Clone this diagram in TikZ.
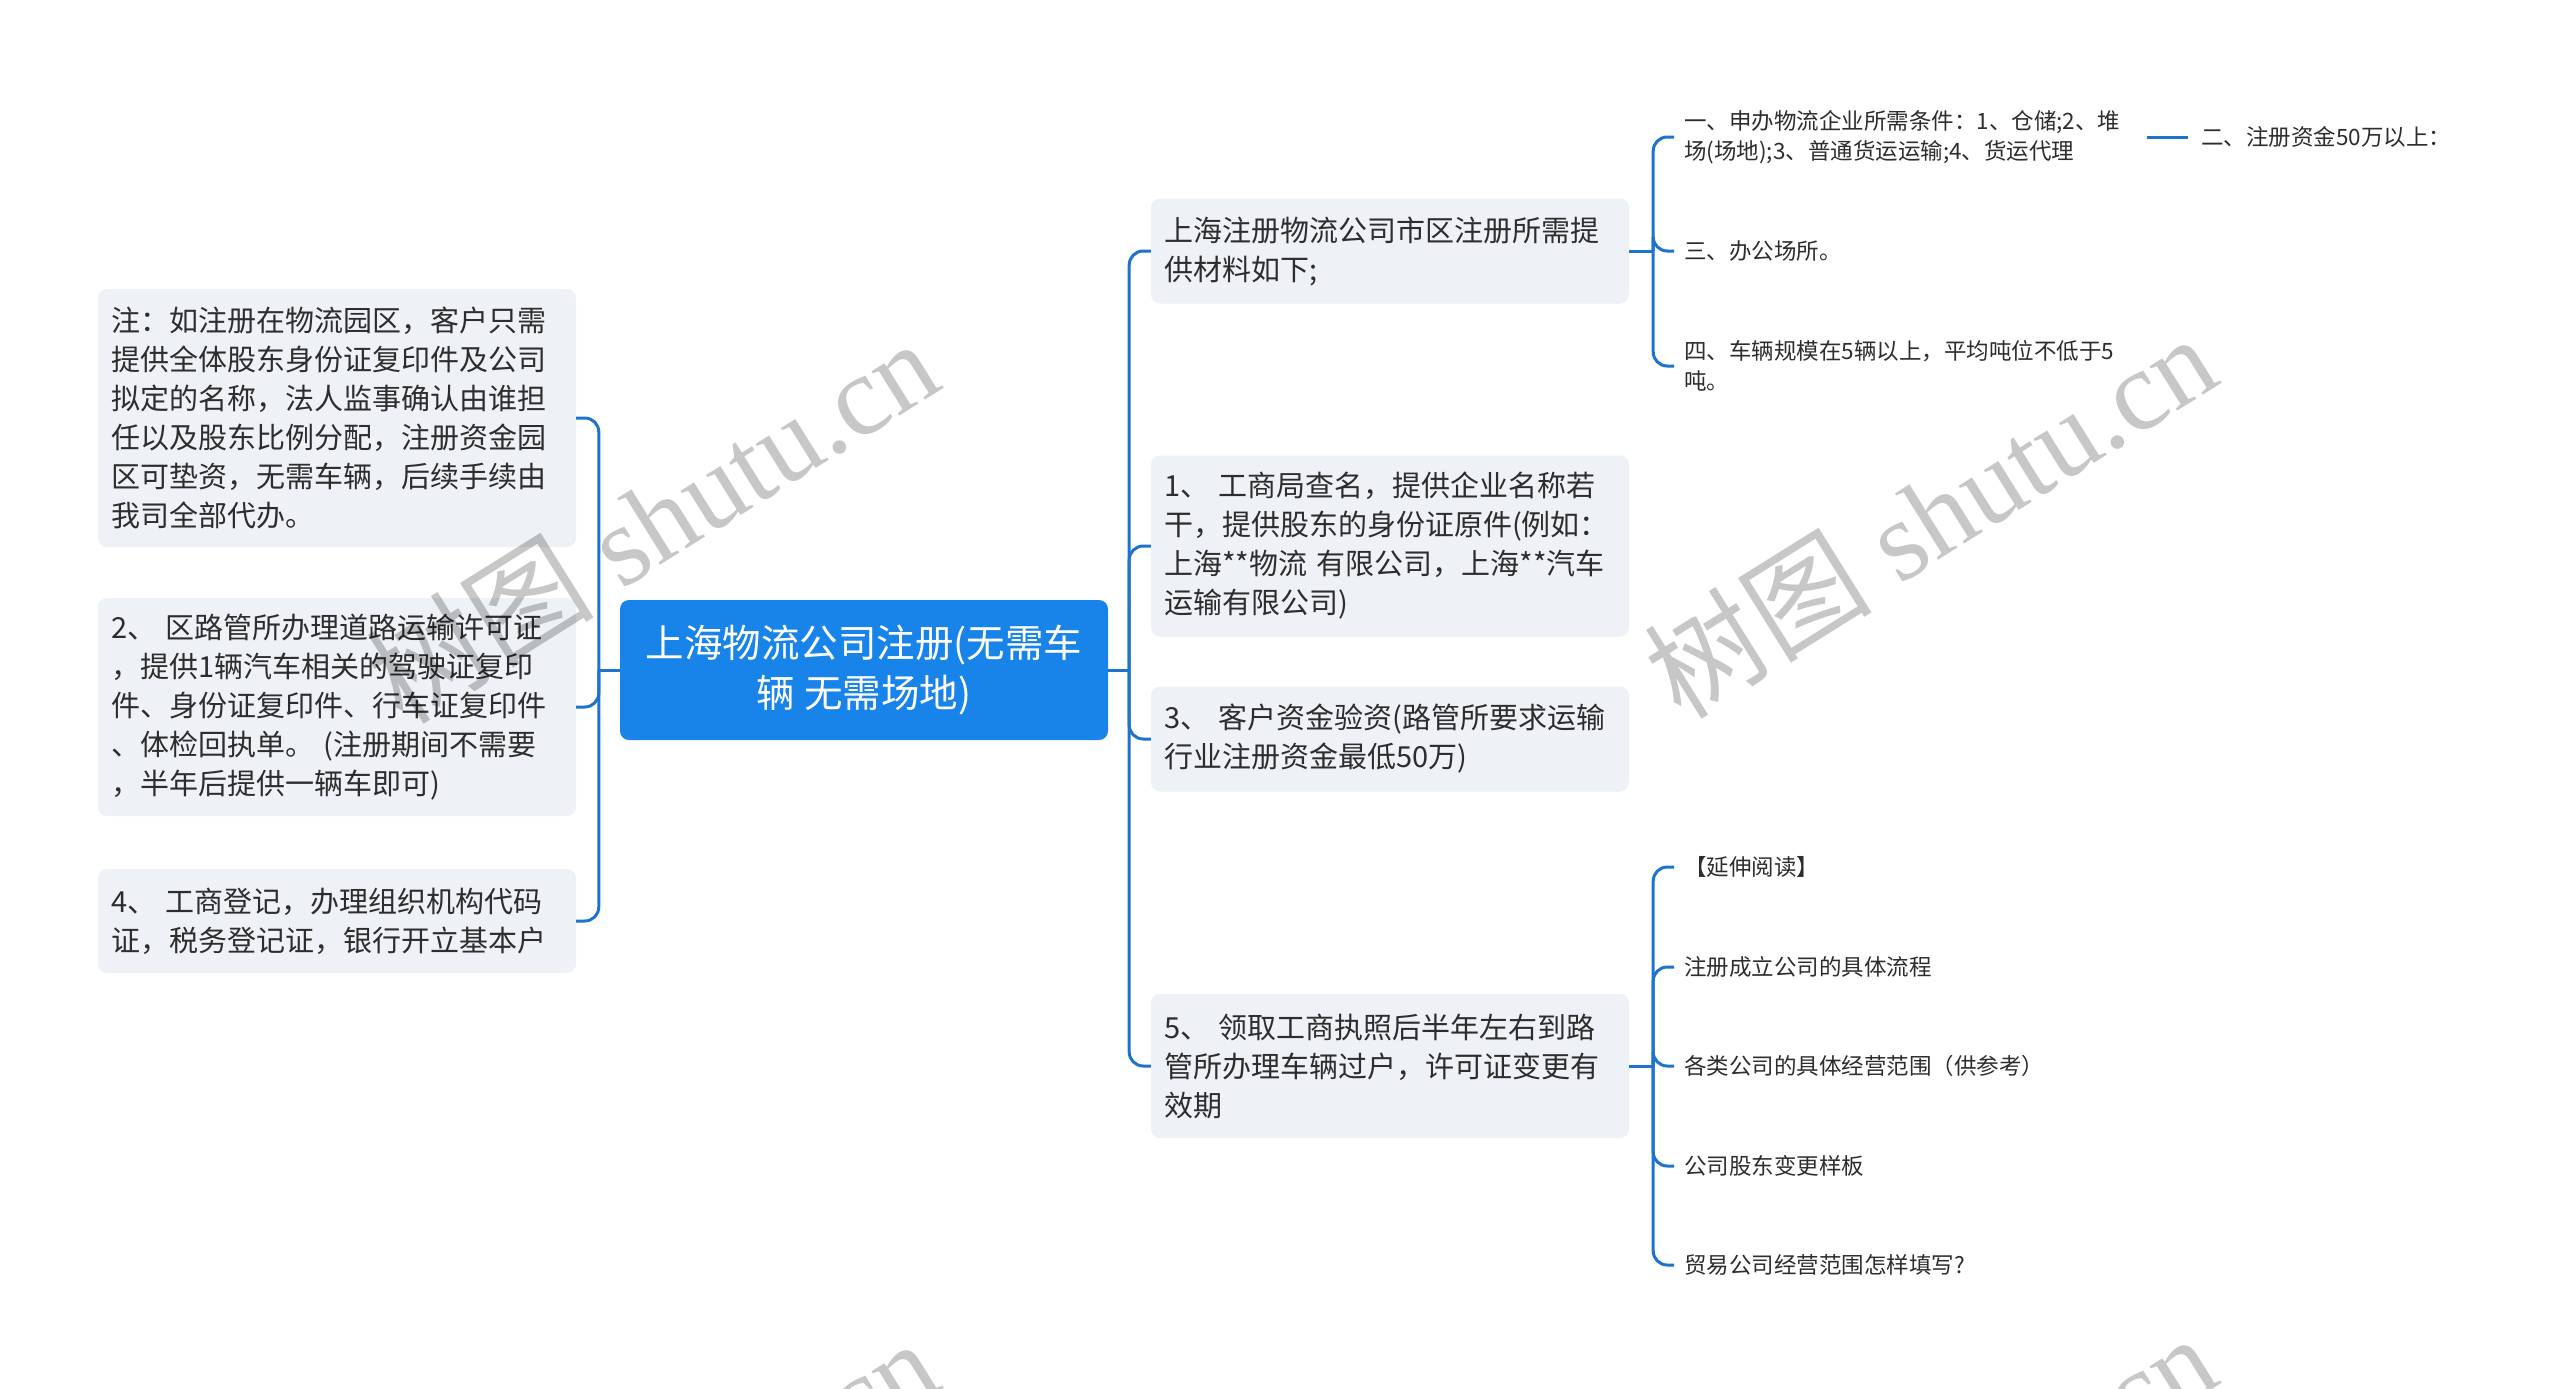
\documentclass[tikz,border=0pt]{standalone}
\usepackage{fontspec}
\setmainfont{Noto Sans CJK SC}
\newfontfamily\wmserif{Liberation Serif}
\newfontfamily\wmcjk{Noto Sans CJK SC}
\definecolor{mainblue}{RGB}{24,131,232}
\definecolor{linkblue}{RGB}{30,115,205}
\definecolor{boxgray}{RGB}{238,241,245}
\definecolor{txt}{RGB}{45,45,45}
\begin{document}
\begin{tikzpicture}[x=1pt,y=-1pt,
  mainnode/.style={fill=mainblue, rounded corners=9pt, minimum width=488pt, minimum height=140pt,
    align=center, text=white, inner sep=0pt, font=\fontsize{38.5pt}{51pt}\selectfont},
  box/.style={fill=boxgray, rounded corners=9pt, inner xsep=13pt, inner ysep=0pt,
    text width=452pt, align=left, text=txt, font=\fontsize{29pt}{39pt}\selectfont},
  leaf/.style={anchor=west, inner xsep=10pt, inner ysep=2pt, align=left, text=txt,
    font=\fontsize{22.5pt}{30pt}\selectfont},
  conn/.style={draw=linkblue, line width=3pt, rounded corners=14pt},
  wm/.style={rotate=32, text=black, opacity=0.22, font=\wmserif\fontsize{114pt}{114pt}\selectfont}]
\useasboundingbox (0,0) rectangle (2560,1389);
\fill[white] (0,0) rectangle (2560,1389);

% centre
\node[mainnode] (C) at (864,670) {上海物流公司注册(无需车\\辆 无需场地)};

% left boxes
\node[box, minimum height=258pt] (L1) at (337,418) {注：如注册在物流园区，客户只需\\提供全体股东身份证复印件及公司\\拟定的名称，法人监事确认由谁担\\任以及股东比例分配，注册资金园\\区可垫资，无需车辆，后续手续由\\我司全部代办。};
\node[box, minimum height=218pt] (L2) at (337,707) {2、 区路管所办理道路运输许可证\\，提供1辆汽车相关的驾驶证复印\\件、身份证复印件、行车证复印件\\、体检回执单。 (注册期间不需要\\，半年后提供一辆车即可)};
\node[box, minimum height=104pt] (L3) at (337,921) {4、 工商登记，办理组织机构代码\\证，税务登记证，银行开立基本户};

% right boxes
\node[box, minimum height=105pt] (R1) at (1390,251) {上海注册物流公司市区注册所需提\\供材料如下;};
\node[box, minimum height=181pt] (R2) at (1390,546) {1、 工商局查名，提供企业名称若\\干，提供股东的身份证原件(例如：\\上海**物流 有限公司，上海**汽车\\运输有限公司)};
\node[box, minimum height=105pt] (R3) at (1390,739) {3、 客户资金验资(路管所要求运输\\行业注册资金最低50万)};
\node[box, minimum height=144pt] (R4) at (1390,1066) {5、 领取工商执照后半年左右到路\\管所办理车辆过户，许可证变更有\\效期};

% leaves of R1
\node[leaf] (T1) at (1674,137) {一、申办物流企业所需条件：1、仓储;2、堆\\场(场地);3、普通货运运输;4、货运代理};
\node[leaf, inner xsep=0pt] (T1b) at (2201,137) {二、注册资金50万以上：};
\node[leaf] (T2) at (1674,251) {三、办公场所。};
\node[leaf] (T3) at (1674,366) {四、车辆规模在5辆以上，平均吨位不低于5\\吨。};

% leaves of R4
\node[leaf] (U1) at (1674,867) {【延伸阅读】};
\node[leaf] (U2) at (1674,967) {注册成立公司的具体流程};
\node[leaf] (U3) at (1674,1066) {各类公司的具体经营范围（供参考）};
\node[leaf] (U4) at (1674,1166) {公司股东变更样板};
\node[leaf] (U5) at (1674,1265) {贸易公司经营范围怎样填写?};

% connectors: centre to left
\draw[conn] (C.west) -- ++(-21,0) coordinate (jL);
\draw[conn] (jL) |- (L1.east);
\draw[conn] (jL) |- (L2.east);
\draw[conn] (jL) |- (L3.east);
% centre to right
\draw[conn] (C.east) -- ++(21,0) coordinate (jR);
\draw[conn] (jR) |- (R1.west);
\draw[conn] (jR) |- (R2.west);
\draw[conn] (jR) |- (R3.west);
\draw[conn] (jR) |- (R4.west);
% R1 to leaves
\draw[conn] (R1.east) -- ++(24,0) coordinate (jR1);
\draw[conn] (jR1) |- (T1.west);
\draw[conn] (jR1) |- (T2.west);
\draw[conn] (jR1) |- (T3.west);
\draw[conn, shorten <=16pt, shorten >=13pt] (T1.east) -- (T1b.west);
% R4 to leaves
\draw[conn] (R4.east) -- ++(24,0) coordinate (jR4);
\draw[conn] (jR4) |- (U1.west);
\draw[conn] (jR4) |- (U2.west);
\draw[conn] (jR4) |- (U3.west);
\draw[conn] (jR4) |- (U4.west);
\draw[conn] (jR4) |- (U5.west);

% watermarks
\begin{scope}
\clip (0,0) rectangle (2560,1389);
\node[wm] (wm1) at (652,520) {{\wmcjk 树图} shutu.cn};
\node[wm] (wm2) at (1930,515) {{\wmcjk 树图} shutu.cn};
\node[wm] (wm3) at (652,1520) {{\wmcjk 树图} shutu.cn};
\node[wm] (wm4) at (1930,1515) {{\wmcjk 树图} shutu.cn};
\end{scope}
\end{tikzpicture}
\end{document}
